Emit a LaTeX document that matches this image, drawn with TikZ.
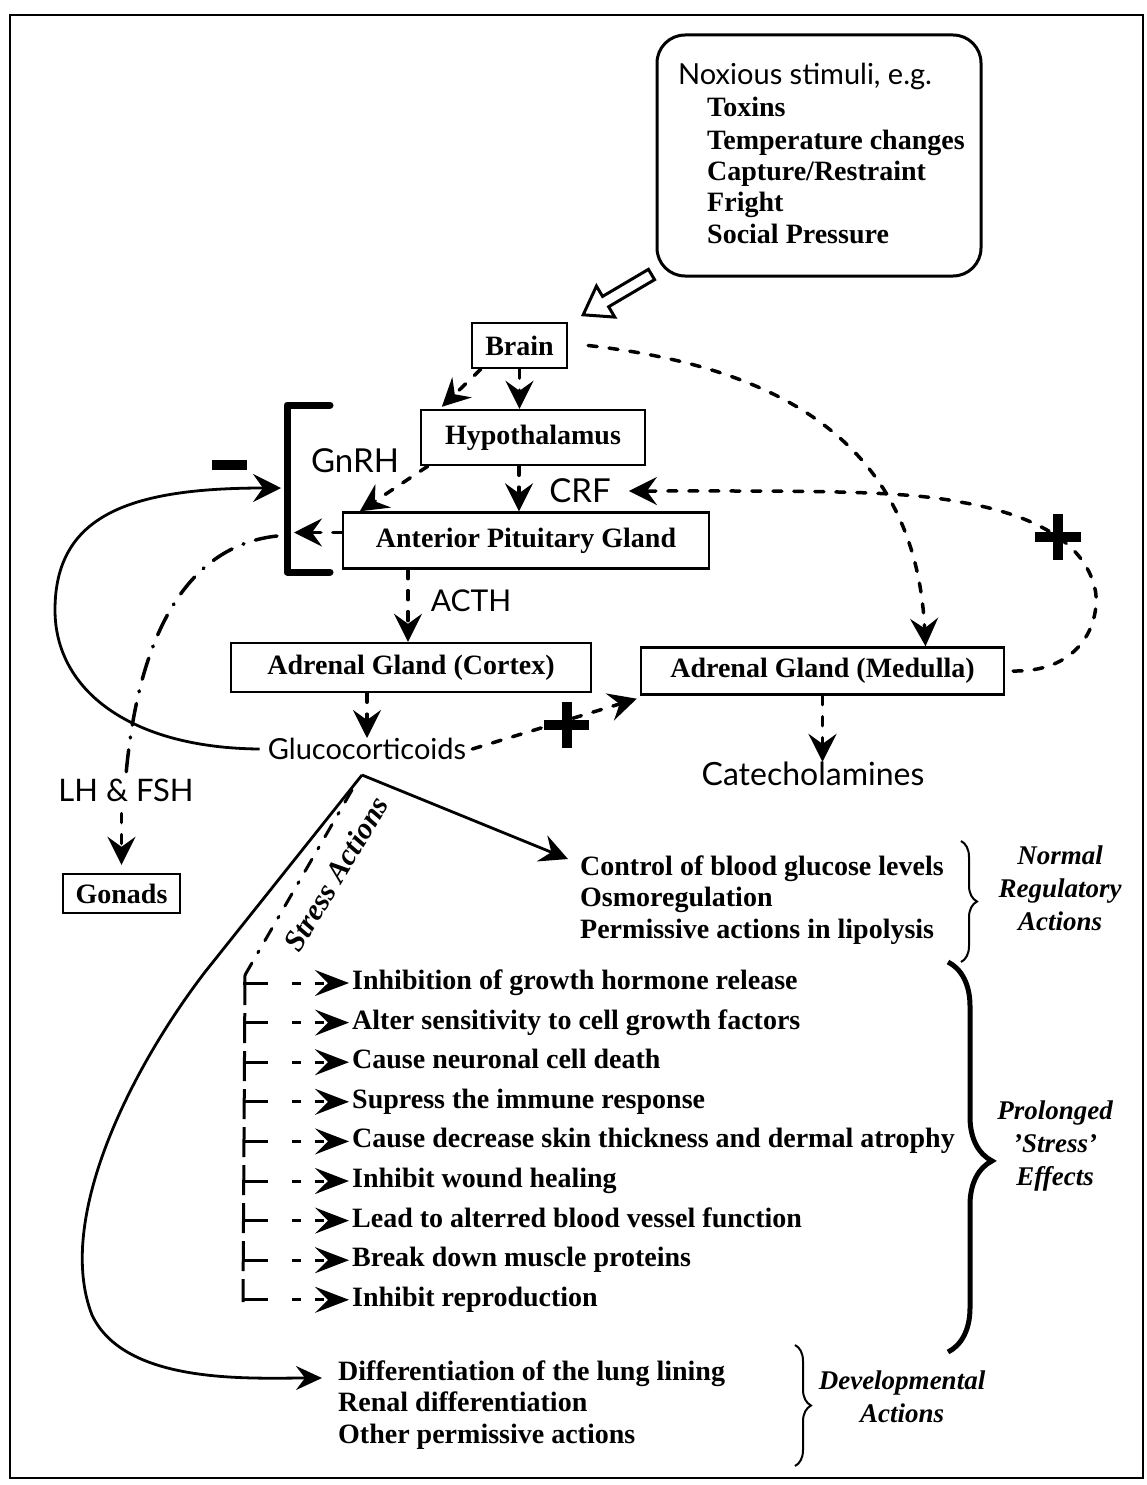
\documentclass[tikz,border=0pt]{standalone}
\usepackage{fontspec}
\setmainfont{Liberation Serif}
\newfontfamily\sansf{Lato}
\usetikzlibrary{arrows.meta,decorations.pathreplacing,calc}
\newcommand\srf{\fontsize{28}{32}\selectfont\bfseries}
\newcommand\srfit{\fontsize{27}{33}\selectfont\bfseries\itshape}
\newcommand\snf{\sansf\fontsize{29}{33}\selectfont}
\newcommand\snfb{\sansf\fontsize{33}{36}\selectfont}
\begin{document}
\begin{tikzpicture}[x=1pt,y=-1pt,
  box/.style={draw, line width=2.4pt, inner sep=0pt, font=\srf},
  txt/.style={inner sep=0pt, font=\srf, text height=19pt, text depth=6pt, anchor=west},
  lab/.style={inner sep=0pt, font=\srfit, align=center},
  sans/.style={inner sep=0pt, font=\snf},
  hd/.style={-{Stealth[length=28pt,width=28pt,inset=10pt]}},
  lhd/.style={-{Stealth[length=34pt,width=26pt,inset=13pt]}},
  shd/.style={-{Stealth[length=26pt,width=24pt,inset=9pt]}},
  dsh/.style={line width=3.5pt, line cap=round, dash pattern=on 9pt off 12pt},
  dashdot/.style={line width=3.5pt, line cap=round, dash pattern=on 22pt off 12pt on 1pt off 12pt},
  sol/.style={line width=2.8pt},
  sign/.style={line width=10pt},
]
\useasboundingbox (0,0) rectangle (1147,1485);
\draw[line width=2.5pt] (10,15) rectangle (1143,1478);

% noxious stimuli box
\node[draw, line width=3pt, rounded corners=28pt, minimum width=324pt, minimum height=241pt, inner sep=0pt] (nox) at (819,155.5) {};
\node[sans, anchor=west] (noxh) at (678,76) {Noxious stimuli, e.g.};
\node[txt] (n1) at (707,110) {Toxins};
\node[txt] (n2) at (707,143) {Temperature changes};
\node[txt] (n3) at (707,174) {Capture/Restraint};
\node[txt] (n4) at (707,205) {Fright};
\node[txt] (n5) at (707,237) {Social Pressure};

% boxes
\node[box, minimum width=95pt, minimum height=45pt] (brain) at (519.5,345.5) {Brain};
\node[box, minimum width=224pt, minimum height=55pt] (hypo) at (533,437.5) {Hypothalamus};
\node[box, minimum width=366pt, minimum height=56pt] (pit) at (526,540.5) {Anterior Pituitary Gland};
\node[box, minimum width=360pt, minimum height=49pt] (cortex) at (411,667.5) {Adrenal Gland (Cortex)};
\node[box, minimum width=363pt, minimum height=47pt] (medulla) at (822.5,671) {Adrenal Gland (Medulla)};
\node[box, minimum width=117pt, minimum height=39pt] (gonads) at (121.5,893.5) {Gonads};

% sans labels
\node[sans, font=\snfb] (gnrh) at (355,461) {GnRH};
\node[sans, font=\snfb] (crf) at (580,491) {CRF};
\node[sans, font=\sansf\fontsize{30}{34}\selectfont] (acth) at (471,601) {ACTH};
\node[sans] (gluco) at (367,749) {Glucocorticoids};
\node[sans, font=\sansf\fontsize{32}{36}\selectfont] (cate) at (813,774) {Catecholamines};
\node[sans, font=\sansf\fontsize{31}{34}\selectfont] (lh) at (126,790) {LH \& FSH};

% bracket and signs
\draw[line width=7pt, line cap=round, line join=round] (330,405) -- (287,405) -- (287,572) -- (330,572);
\coordinate (brkin) at (294,532.5);
\coordinate (brkout) at (281,488);
\coordinate (brkl) at (277,536);
\draw[sign] (212,465) -- (247,465);
\draw[sign] (544,725) -- (589,725) (566.5,702) -- (566.5,748);
\draw[sign] (1035,537) -- (1081,537) (1058,514) -- (1058,560);

% hollow arrow from the stimuli to the brain
\coordinate (hs) at ([xshift=-4pt,yshift=3pt]nox.south west);
\coordinate (ht) at ([xshift=15pt,yshift=7pt]brain.north east);
\coordinate (hh) at ($(ht)!26pt!(hs)$);
\draw[line width=3pt, line join=miter, fill=white]
  ($(hs)!6pt!90:(ht)$) -- ($(hh)!6pt!-90:(hs)$) -- ($(hh)!18pt!-90:(hs)$) -- (ht)
  -- ($(hh)!18pt!90:(hs)$) -- ($(hh)!6pt!90:(hs)$) -- ($(hs)!6pt!-90:(ht)$) -- cycle;

% connectors
\draw[dsh, hd] (brain.south) -- (brain.south |- hypo.north);
\draw[dsh, hd] ([xshift=10pt]brain.south west) -- ([xshift=22pt,yshift=2pt]hypo.north west);
\draw[dsh, hd] ([xshift=-14pt]hypo.south) -- ([xshift=-14pt]hypo.south |- pit.north);
\draw[dsh, hd] ([xshift=8pt]hypo.south west) -- ([xshift=18pt]pit.north west);
\draw[dsh, hd] ([yshift=8pt]pit.west) -- (brkin);
\draw[sol, hd] ([xshift=-8pt]gluco.west) .. controls (130,748) and (55,690) .. (55,610) .. controls (55,515) and (130,488) .. (brkout);
\draw[dashdot] (brkl) .. controls (195,545) and (140,620) .. ([yshift=4pt]lh.north);
\draw[dsh, hd] ([yshift=-12pt]gonads.north |- lh.south) -- ([yshift=8pt]gonads.north);
\draw[dsh, hd] ([xshift=-118pt]pit.south) -- ([xshift=-118pt]pit.south |- cortex.north);
\draw[dsh, hd] (cortex.south -| gluco.north) -- (gluco.north);
\draw[dsh, hd] ([xshift=6pt]gluco.east) -- ([xshift=-3pt,yshift=-3pt]medulla.south west);
\draw[dsh, hd] (medulla.south) -- (medulla.south |- cate.north);
\draw[dsh, hd] ([xshift=20pt]brain.east) .. controls (760,365) and (915,430) .. ([xshift=103pt]medulla.north);
\draw[dsh, hd] ([xshift=8pt]medulla.east) .. controls (1090,672) and (1102,610) .. (1094,585) .. controls (1080,535) and (1020,512) .. (960,502) .. controls (900,490) and (800,491) .. ([xshift=18pt]crf.east);

% lists
\node[txt] (nr1) at (580,869) {Control of blood glucose levels};
\node[txt] (nr2) at (580,900) {Osmoregulation};
\node[txt] (nr3) at (580,932) {Permissive actions in lipolysis};
\node[txt] (dv1) at (338,1374) {Differentiation of the lung lining};
\node[txt] (dv2) at (338,1405) {Renal differentiation};
\node[txt] (dv3) at (338,1437) {Other permissive actions};

\coordinate (apex) at (362,775);
\draw[sol, hd] (apex) -- ([xshift=-12pt,yshift=10pt]nr1.west);
\draw[sol, shd] (apex) -- (205,972) .. controls (130,1070) and (55,1220) .. (92,1315) .. controls (125,1385) and (250,1378) .. ([xshift=-16pt,yshift=-4pt]dv1.west);
\node[lab, font=\fontsize{30}{34}\selectfont\bfseries\itshape, rotate=59] (sa) at (336,874) {Stress Actions};

\coordinate (sa0) at (352,790);
\coordinate (sa1) at (245,975);
\coordinate (sa2) at (243,1302);
\draw[line width=3pt, line cap=round, dash pattern=on 14pt off 12pt on 2pt off 12pt] (sa0) -- (sa1);
\draw[line width=3pt, dash pattern=on 30pt off 8pt] (sa1) -- (sa2);

\foreach \t [count=\k] in {Inhibition of growth hormone release, Alter sensitivity to cell growth factors, Cause neuronal cell death, Supress the immune response, Cause decrease skin thickness and dermal atrophy, Inhibit wound healing, Lead to alterred blood vessel function, Break down muscle proteins, Inhibit reproduction} {
  \node[txt] (i\k) at (352,{983+39.6*(\k-1)}) {\t};
  \coordinate (t\k) at (243,{983+39.6*(\k-1)});
  \draw[line width=3pt] (t\k) -- ++(25,0);
  \draw[line width=3pt, dash pattern=on 9pt off 14pt, lhd] ([xshift=49pt]t\k) -- ([xshift=-3pt]i\k.west);
}

% braces
\draw[line width=2pt, decorate, decoration={brace, amplitude=16pt}] (961,841) -- (961,962);
\draw[line width=5pt, decorate, decoration={brace, amplitude=44pt, aspect=0.51}] (948,962) -- (948,1352);
\draw[line width=2pt, decorate, decoration={brace, amplitude=16pt}] (795,1345) -- (795,1466);

\node[lab] (nra) at (1060,888) {Normal\\Regulatory\\Actions};
\node[lab] (pse) at (1055,1146) {Prolonged\\'Stress'\\Effects};
\node[lab] (dva) at (902,1397) {Developmental\\Actions};
\end{tikzpicture}
\end{document}
